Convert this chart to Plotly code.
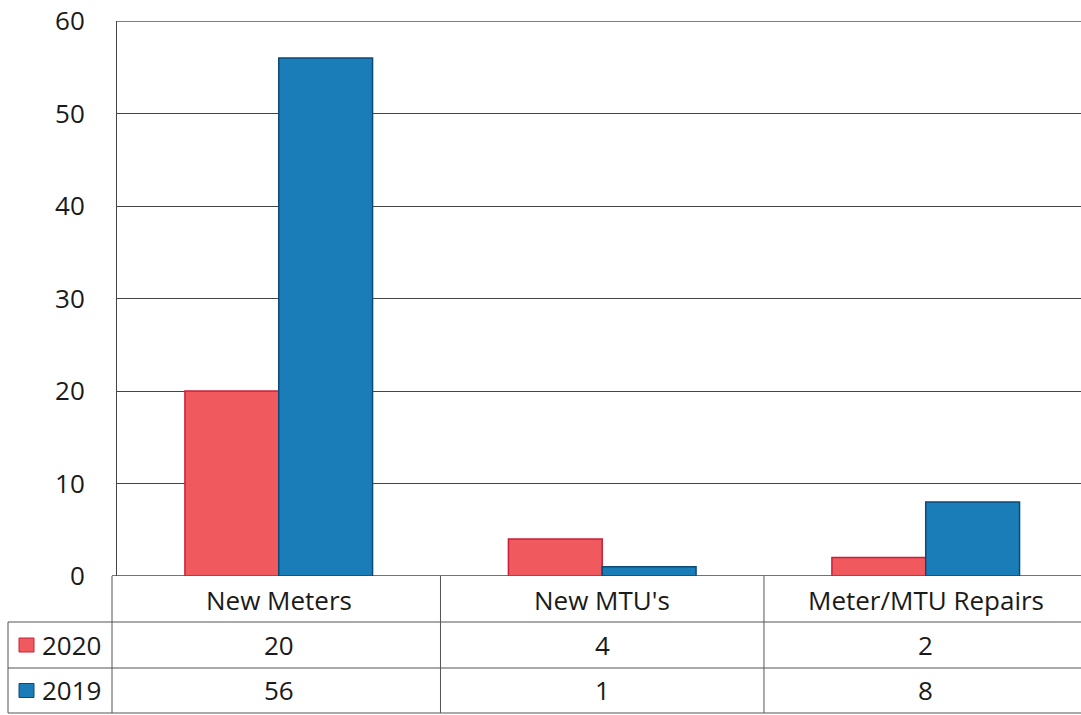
import plotly.graph_objects as go

# Data
categories = ["New Meters", "New MTU's", "Meter/MTU Repairs"]
series_names = ["2020", "2019"]
values_2020 = [20, 4, 2]
values_2019 = [56, 1, 8]
y_ticks = [0, 10, 20, 30, 40, 50, 60]

# Styling
W, H = 1081, 715
M_L, M_R, M_T, M_B = 117, 0, 21, 139
PLOT_W = W - M_L - M_R
PLOT_H = H - M_T - M_B
FONT = "Open Sans, Lato, Arial, sans-serif"
FS = 26
TXT = "#1a1a1a"
fills = ["#F05A5E", "#1B7DB8"]
edges = ["#C8203A", "#0D4A78"]
series_values = [values_2020, values_2019]


def px_x(p):
    """Pixel column -> paper x."""
    return (p - M_L) / PLOT_W


def px_y(p):
    """Pixel row -> paper y."""
    return (H - M_B - p) / PLOT_H


fig = go.Figure()
for name, vals, fc, ec in zip(series_names, series_values, fills, edges):
    fig.add_trace(go.Bar(
        x=list(range(len(categories))), y=vals, name=name,
        marker=dict(color=fc, line=dict(color=ec, width=1.5)),
        showlegend=False,
    ))

shapes = []
annotations = []
line_col = "#555555"

# top border of the plot area at the axis maximum
shapes.append(dict(type="line", xref="paper", yref="y", x0=0, x1=1,
                   y0=max(y_ticks), y1=max(y_ticks),
                   line=dict(color="#1F5FA0", width=1.5)))
# baseline at zero, running into the table's legend column
shapes.append(dict(type="line", xref="paper", yref="y", x0=px_x(112), x1=1,
                   y0=0, y1=0, layer="below",
                   line=dict(color="#444444", width=1.5)))

# data table below the axis
row_tops = [576, 622, 668, 713]
left_edge = 8
legend_col = 112
for r in row_tops[1:]:
    shapes.append(dict(type="line", xref="paper", yref="paper",
                       x0=px_x(left_edge), x1=1, y0=px_y(r), y1=px_y(r),
                       line=dict(color=line_col, width=1)))
shapes.append(dict(type="line", xref="paper", yref="paper",
                   x0=px_x(left_edge), x1=px_x(left_edge), y0=px_y(row_tops[1]), y1=px_y(row_tops[3]),
                   line=dict(color=line_col, width=1)))
shapes.append(dict(type="line", xref="paper", yref="paper",
                   x0=px_x(legend_col), x1=px_x(legend_col), y0=px_y(row_tops[0]), y1=px_y(row_tops[3]),
                   line=dict(color=line_col, width=1)))
for k in range(len(categories) - 1):
    shapes.append(dict(type="line", xref="x", yref="paper",
                       x0=k + 0.5, x1=k + 0.5, y0=px_y(row_tops[0]), y1=px_y(row_tops[3]),
                       line=dict(color=line_col, width=1)))

# header row: category names
for k, cat in enumerate(categories):
    annotations.append(dict(x=k, y=px_y((row_tops[0] + row_tops[1]) / 2 + 1), xref="x", yref="paper",
                            text=cat, showarrow=False, xanchor="center", yanchor="middle",
                            font=dict(size=FS, color=TXT, family=FONT)))

# value rows with legend keys
for s, (name, vals) in enumerate(zip(series_names, series_values)):
    top, bot = row_tops[s + 1], row_tops[s + 2]
    mid = (top + bot) / 2
    shapes.append(dict(type="rect", xref="paper", yref="paper",
                       x0=px_x(19), x1=px_x(34), y0=px_y(mid - 7), y1=px_y(mid + 7),
                       fillcolor=fills[s], line=dict(color=edges[s], width=1)))
    annotations.append(dict(x=px_x(40), y=px_y(mid), xref="paper", yref="paper",
                            text=name, showarrow=False, xanchor="left", yanchor="middle",
                            font=dict(size=FS, color=TXT, family=FONT)))
    for k, v in enumerate(vals):
        annotations.append(dict(x=k, y=px_y(mid), xref="x", yref="paper",
                                text=str(v), showarrow=False, xanchor="center", yanchor="middle",
                                font=dict(size=FS, color=TXT, family=FONT)))

fig.update_layout(
    width=W, height=H,
    margin=dict(l=M_L, r=M_R, t=M_T, b=M_B, pad=0),
    paper_bgcolor="white", plot_bgcolor="white",
    barmode="group", bargap=0.42, bargroupgap=0,
    shapes=shapes, annotations=annotations,
    font=dict(family=FONT, color=TXT),
)
fig.update_xaxes(range=[-0.5, len(categories) - 0.52], showticklabels=False,
                 showgrid=False, zeroline=False, showline=False, fixedrange=True)
fig.update_yaxes(range=[0, max(y_ticks)], tickvals=y_ticks,
                 ticktext=[str(t) for t in y_ticks],
                 showgrid=True, gridcolor="#444444", gridwidth=1,
                 zeroline=False, showline=True, linecolor="#444444", linewidth=1,
                 ticks="", ticklabelstandoff=26,
                 tickfont=dict(size=FS, color=TXT, family=FONT), fixedrange=True)

fig.write_html("out.html")
